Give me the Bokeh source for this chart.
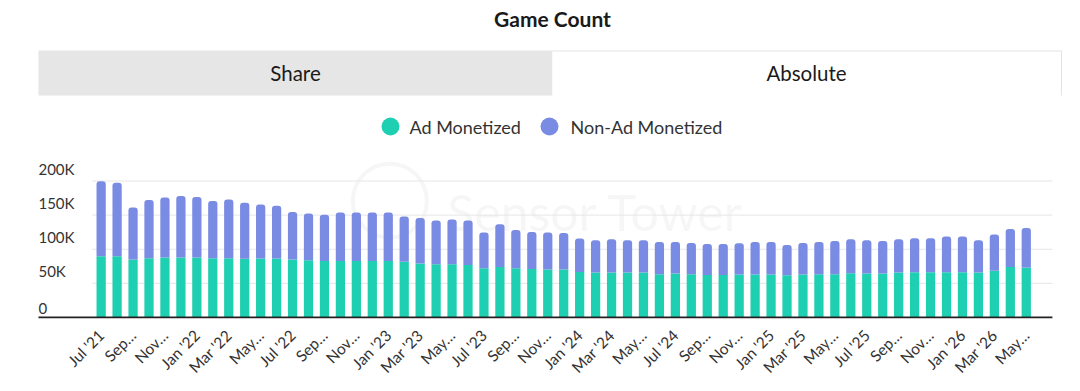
import math

from bokeh.core.properties import value
from bokeh.embed import file_html
from bokeh.layouts import column
from bokeh.models import ColumnDataSource, FixedTicker, Range1d
from bokeh.plotting import figure
from bokeh.resources import INLINE

# ---- data -------------------------------------------------------------
months = [
    "Jul '21", "Aug '21", "Sep '21", "Oct '21", "Nov '21", "Dec '21",
    "Jan '22", "Feb '22", "Mar '22", "Apr '22", "May '22", "Jun '22",
    "Jul '22", "Aug '22", "Sep '22", "Oct '22", "Nov '22", "Dec '22",
    "Jan '23", "Feb '23", "Mar '23", "Apr '23", "May '23", "Jun '23",
    "Jul '23", "Aug '23", "Sep '23", "Oct '23", "Nov '23", "Dec '23",
    "Jan '24", "Feb '24", "Mar '24", "Apr '24", "May '24", "Jun '24",
    "Jul '24", "Aug '24", "Sep '24", "Oct '24", "Nov '24", "Dec '24",
    "Jan '25", "Feb '25", "Mar '25", "Apr '25", "May '25", "Jun '25",
    "Jul '25", "Aug '25", "Sep '25", "Oct '25", "Nov '25", "Dec '25",
    "Jan '26", "Feb '26", "Mar '26", "Apr '26", "May '26",
]

ad_monetized = [
    89800, 89800, 84900, 86800, 87800, 87800, 87800, 86800, 86800, 85900,
    86300, 86300, 84900, 83900, 82900, 82900, 82900, 82900, 82900, 81500,
    79000, 78000, 78000, 77000, 72200, 74100, 72200, 71200, 70200, 70200,
    66800, 65900, 65900, 65900, 65900, 63400, 64400, 63400, 62400, 62400,
    62900, 62900, 62900, 62000, 62900, 63400, 63400, 64900, 64400, 64400,
    65900, 66300, 66300, 66300, 66300, 65900, 68300, 74100, 73200,
]

non_ad_monetized = [
    109700, 107800, 76100, 85200, 88200, 90200, 88800, 83900, 86200, 82100,
    79100, 77600, 69700, 68300, 67800, 70800, 70800, 70800, 70800, 66300,
    66900, 64000, 65400, 65000, 52200, 62500, 56100, 54200, 54200, 53700,
    48800, 47300, 48700, 47300, 47300, 47300, 46300, 45900, 45400, 45400,
    45900, 47800, 47800, 44300, 46400, 47300, 48800, 49700, 48800, 47800,
    48700, 49800, 49800, 52200, 52200, 47300, 53200, 55700, 58000,
]

tick_labels = [
    "Jul '21", "Sep…", "Nov…", "Jan '22", "Mar '22", "May…",
    "Jul '22", "Sep…", "Nov…", "Jan '23", "Mar '23", "May…",
    "Jul '23", "Sep…", "Nov…", "Jan '24", "Mar '24", "May…",
    "Jul '24", "Sep…", "Nov…", "Jan '25", "Mar '25", "May…",
    "Jul '25", "Sep…", "Nov…", "Jan '26", "Mar '26", "May…",
]

y_ticks = [0, 50000, 100000, 150000, 200000]
y_tick_labels = ["0", "50K", "100K", "150K", "200K"]

series_names = ["Ad Monetized", "Non-Ad Monetized"]

# ---- style ------------------------------------------------------------
FONT = "Lato"
TEAL = "#1fcfb1"
BLUE = "#7a8be4"
TEXT = "#333333"

# ---- header: title, tab strip and legend (pixel-space figure) -----------
head = figure(
    width=1080, height=145,
    x_range=Range1d(0, 1080), y_range=Range1d(145, 0),
    x_axis_location=None, y_axis_location=None,
    output_backend="svg", toolbar_location=None,
    min_border=0, outline_line_color=None,
)
head.xgrid.visible = False
head.ygrid.visible = False

head.text(x=[552], y=[18], text=["Game Count"],
          text_font=value(FONT), text_font_style="bold", text_font_size="21px",
          text_align="center", text_baseline="middle", text_color="#1a1a1a")

# tab strip
head.quad(left=[38], right=[552], top=[50], bottom=[95],
          fill_color="#e6e6e6", line_color=None)
head.quad(left=[552], right=[1061], top=[50], bottom=[95],
          fill_color="white", line_color=None)
head.multi_line(xs=[[552, 1061, 1061]], ys=[[50.5, 50.5, 95]],
                line_color="#e3e3e3", line_width=1)
head.text(x=[295, 806], y=[72, 72], text=["Share", "Absolute"],
          text_font=value(FONT), text_font_size="20.5px",
          text_align="center", text_baseline="middle", text_color="#1a1a1a")

# legend
head.scatter(x=[390, 549], y=[126, 126], size=18, color=[TEAL, BLUE],
             line_color=None)
head.text(x=[409, 570], y=[126, 126], text=series_names,
          text_font=value(FONT), text_font_size="18px",
          text_align="left", text_baseline="middle", text_color=TEXT)

# ---- chart -------------------------------------------------------------
n = len(months)
source = ColumnDataSource(dict(
    x=list(range(n)),
    month=months,
    ad=ad_monetized,
    non_ad=non_ad_monetized,
))

# visible x extent of the range, and where the plot body starts/ends
view_start, view_end = -6.31, 61.40
body_start, grid_start, body_end = -3.93, -0.55, 59.64

chart = figure(
    width=1080, height=246,
    x_range=Range1d(view_start, view_end), y_range=Range1d(-1500, 244700),
    y_axis_location=None,
    output_backend="svg", toolbar_location=None,
    min_border_left=0, min_border_right=0,
    min_border_top=5, min_border_bottom=73,
    outline_line_color=None,
)
chart.xgrid.visible = False
chart.ygrid.visible = False

# faint watermark behind the bars
chart.scatter(x=[18.1], y=[171000], size=74, fill_color=None,
              line_color="#000000", line_alpha=0.035, line_width=4,
              level="underlay")
chart.text(x=[21.7], y=[154000], text=["Sensor Tower"],
           text_font=value(FONT), text_font_size="50px",
           text_align="left", text_baseline="middle",
           text_color="#000000", text_alpha=0.035, level="underlay")

# horizontal grid lines (start at the first bar, labels sit to their left)
grid_vals = y_ticks[1:]
chart.segment(x0=[grid_start] * len(grid_vals), x1=[body_end] * len(grid_vals),
              y0=grid_vals, y1=grid_vals, line_color="#e6e6e6", line_width=1)

# y tick labels, sitting just above each grid line
chart.text(x=[body_start] * len(y_ticks), y=y_ticks, text=y_tick_labels,
           text_font=value(FONT), text_font_size="15px", text_color=TEXT,
           text_align="left", text_baseline="bottom", y_offset=-3)

bars = chart.vbar_stack(["ad", "non_ad"], x="x", width=0.58,
                        color=[TEAL, BLUE], line_color=None, source=source)
bars[1].glyph.border_radius = (3, 3, 0, 0)

# baseline across the plot body
chart.segment(x0=[body_start], x1=[body_end], y0=[0], y1=[0],
              line_color="#222222", line_width=2)

# x axis: every other month labelled
xa = chart.xaxis[0]
xa.ticker = FixedTicker(ticks=list(range(0, n, 2)))
xa.major_label_overrides = {i * 2: lab for i, lab in enumerate(tick_labels)}
xa.major_label_orientation = math.pi / 4
xa.major_label_text_font = FONT
xa.major_label_text_font_size = "15.5px"
xa.major_label_text_color = TEXT
xa.major_label_standoff = 8
xa.major_tick_line_color = None
xa.minor_tick_line_color = None
xa.axis_line_color = None

layout = column(head, chart, spacing=0)

with open("out.html", "w") as f:
    f.write(file_html(layout, INLINE))
